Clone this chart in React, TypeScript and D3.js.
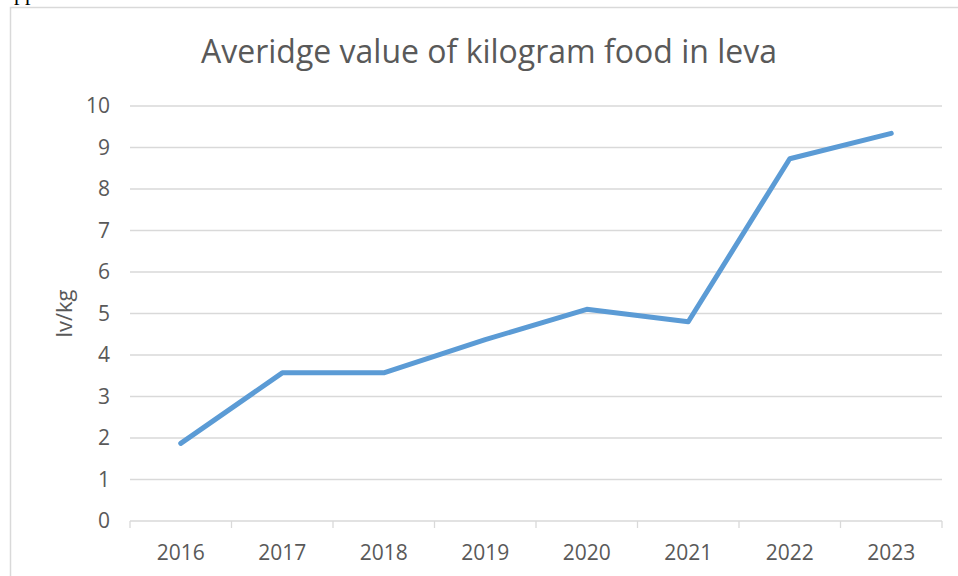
import React, { useEffect, useRef } from 'react';
import * as d3 from 'd3';

const years = ['2016', '2017', '2018', '2019', '2020', '2021', '2022', '2023'];
const prices = [1.87, 3.57, 3.57, 4.37, 5.1, 4.8, 8.73, 9.34];
const yTicks = [0, 1, 2, 3, 4, 5, 6, 7, 8, 9, 10];

const W = 958;
const H = 576;
const FONT = '"Open Sans", "Noto Sans", sans-serif';

const App = () => {
  const svgRef = useRef<SVGSVGElement>(null);

  useEffect(() => {
    const svg = d3.select(svgRef.current);
    svg.selectAll('*').remove();

    const left = 130, right = 942, top = 106, bottom = 521;

    const x = d3.scaleBand().domain(years).range([left, right]);
    const y = d3.scaleLinear().domain([0, 10]).range([bottom, top]);

    svg.append('rect').attr('width', W).attr('height', H).attr('fill', '#fff');

    // leftover text from the page above the chart
    svg.append('text')
      .attr('x', 14).attr('y', -0.5)
      .attr('font-family', '"Liberation Serif", serif')
      .attr('font-size', 22)
      .attr('fill', '#000')
      .text('pp');

    // chart frame (only top and left visible)
    svg.append('path')
      .attr('d', `M10.5,${H} V7.5 H${W}`)
      .attr('fill', 'none')
      .attr('stroke', '#d9d9d9')
      .attr('stroke-width', 1.5);

    svg.append('text')
      .attr('x', 489).attr('y', 63)
      .attr('text-anchor', 'middle')
      .attr('font-family', FONT)
      .attr('font-size', 32)
      .attr('fill', '#595959')
      .text('Averidge value of kilogram food in leva');

    // gridlines
    svg.append('g')
      .selectAll('line')
      .data(yTicks.slice(1))
      .join('line')
      .attr('x1', left).attr('x2', right)
      .attr('y1', d => y(d)).attr('y2', d => y(d))
      .attr('stroke', '#d9d9d9')
      .attr('stroke-width', 1.3);

    // y labels
    svg.append('g')
      .selectAll('text')
      .data(yTicks)
      .join('text')
      .attr('x', 110)
      .attr('y', d => y(d))
      .attr('dy', '0.35em')
      .attr('text-anchor', 'end')
      .attr('font-family', FONT)
      .attr('font-size', 21)
      .attr('fill', '#595959')
      .text(d => d);

    // x axis
    const xAxis = svg.append('g').attr('transform', `translate(0,${bottom})`);
    xAxis.append('line')
      .attr('x1', left).attr('x2', right)
      .attr('stroke', '#d9d9d9').attr('stroke-width', 1.3);
    xAxis.selectAll('line.tick')
      .data([...years.map(d => x(d) as number), right])
      .join('line')
      .attr('class', 'tick')
      .attr('x1', d => d).attr('x2', d => d)
      .attr('y1', 0).attr('y2', 7)
      .attr('stroke', '#d9d9d9').attr('stroke-width', 1.3);
    xAxis.selectAll('text')
      .data(years)
      .join('text')
      .attr('x', d => (x(d) as number) + x.bandwidth() / 2)
      .attr('y', 39)
      .attr('text-anchor', 'middle')
      .attr('font-family', FONT)
      .attr('font-size', 21)
      .attr('fill', '#595959')
      .text(d => d);

    svg.append('text')
      .attr('transform', `translate(72,${(top + bottom) / 2}) rotate(-90)`)
      .attr('text-anchor', 'middle')
      .attr('font-family', FONT)
      .attr('font-size', 22)
      .attr('fill', '#595959')
      .text('lv/kg');

    const line = d3.line<number>()
      .x((_, i) => (x(years[i]) as number) + x.bandwidth() / 2)
      .y(d => y(d));

    svg.append('path')
      .datum(prices)
      .attr('fill', 'none')
      .attr('stroke', '#5b9bd5')
      .attr('stroke-width', 5)
      .attr('stroke-linecap', 'round')
      .attr('stroke-linejoin', 'round')
      .attr('d', line);
  }, []);

  return (
    <div style={{ position: 'absolute', left: 0, top: 0 }}>
      <svg ref={svgRef} width={W} height={H} style={{ display: 'block' }}></svg>
    </div>
  );
};

export default App;
